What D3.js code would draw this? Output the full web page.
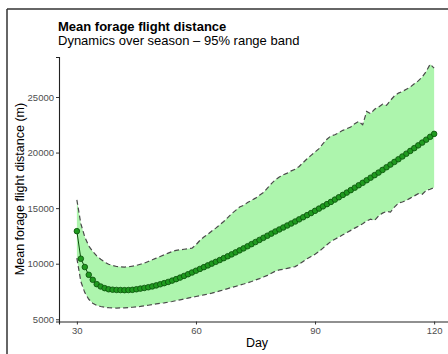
<!DOCTYPE html>
<html>
<head>
<meta charset="utf-8">
<script src="https://cdn.jsdelivr.net/npm/d3@7"></script>
<style>
  body { margin: 0; background: #fff; }
  svg { display: block; font-family: "Liberation Sans", Arial, sans-serif; }
</style>
</head>
<body>
<svg id="chart" width="448" height="354"></svg>
<script>
const days = d3.range(30, 121);

const meanDist = [
  12930, 10450, 9700, 9000, 8550, 8160, 7950, 7800, 7700, 7660,
  7640, 7630, 7620, 7630, 7650, 7700, 7760, 7820, 7880, 7960,
  8050, 8150, 8250, 8360, 8480, 8610, 8750, 8900, 9050, 9210,
  9370, 9530, 9690, 9850, 10010, 10170, 10330, 10500, 10670, 10840,
  11020, 11200, 11380, 11570, 11760, 11950, 12140, 12330, 12520, 12710,
  12900, 13080, 13260, 13440, 13620, 13800, 13990, 14180, 14370, 14560,
  14760, 14960, 15160, 15360, 15560, 15770, 15980, 16190, 16400, 16620,
  16840, 17060, 17280, 17510, 17740, 17970, 18200, 18440, 18680, 18920,
  19160, 19400, 19650, 19900, 20150, 20400, 20650, 20900, 21160, 21420,
  21680
];

const upperDist = [
  15750, 13600, 12400, 11600, 11100, 10700, 10400, 10150, 9950, 9850,
  9750, 9720, 9700, 9720, 9780, 9850, 9950, 10050, 10200, 10350,
  10500, 10650, 10800, 10950, 11100, 11200, 11250, 11300, 11350, 11400,
  11700, 12100, 12400, 12650, 12950, 13200, 13500, 13800, 14150, 14500,
  14800, 15100, 15250, 15500, 15700, 15900, 16150, 16400, 16800, 17200,
  17550, 17800, 18000, 18150, 18350, 18500, 18750, 19100, 19450, 19750,
  20050, 20350, 20800, 21200, 21500, 21600, 21800, 22000, 22150, 22300,
  22600, 22800, 22500, 23700, 23500, 23900, 24100, 24350, 24250, 24700,
  25100, 25350, 25500, 25700, 25900, 26200, 26450, 26800, 27300, 27950,
  27600
];

const lowerDist = [
  10500, 8400, 7400, 6800, 6450, 6250, 6150, 6080, 6040, 6020,
  6010, 6020, 6030, 6050, 6080, 6120, 6160, 6210, 6260, 6320,
  6380, 6430, 6480, 6540, 6600, 6680, 6750, 6820, 6900, 6980,
  7050, 7120, 7200, 7270, 7350, 7450, 7550, 7650, 7760, 7860,
  7960, 8070, 8170, 8280, 8400, 8530, 8660, 8800, 8950, 9150,
  9330, 9440, 9500, 9580, 9660, 9740, 9950, 10200, 10450, 10650,
  10850, 11100, 11400, 11700, 12000, 12200, 12400, 12600, 12800, 13000,
  13200, 13400, 13600, 13850, 14000, 13900, 14300, 14550, 14700, 14650,
  15100, 15450, 15550, 15700, 15900, 16100, 16300, 16250, 16600, 16700,
  16850
];

const xTicks = [30, 60, 90, 120];
const yTicks = [5000, 10000, 15000, 20000, 25000];

const data = days.map((d, i) => ({
  day: d, mean: meanDist[i], lo: lowerDist[i], hi: upperDist[i]
}));

const svg = d3.select("#chart");

// frame of the exported panel (cropped on right/bottom)
svg.append("line").attr("x1", 7).attr("x2", 448).attr("y1", 9).attr("y2", 9)
  .attr("stroke", "#333").attr("stroke-width", 1.5);
svg.append("line").attr("x1", 7).attr("x2", 7).attr("y1", 9).attr("y2", 354)
  .attr("stroke", "#333").attr("stroke-width", 1.5);

const x = d3.scaleLinear().domain([25.5, 124.5]).range([59, 452]);
const y = d3.scaleLinear().domain([4800, 28600]).range([321.5, 57]);

// band
svg.append("path")
  .datum(data)
  .attr("fill", "#adf5ad")
  .attr("d", d3.area().x(d => x(d.day)).y0(d => y(d.lo)).y1(d => y(d.hi)));

["lo", "hi"].forEach(k => {
  svg.append("path")
    .datum(data)
    .attr("fill", "none")
    .attr("stroke", "#4a4a4a")
    .attr("stroke-width", 1.2)
    .attr("stroke-dasharray", "5,3")
    .attr("d", d3.line().x(d => x(d.day)).y(d => y(d[k])));
});

// mean line + points
svg.append("path")
  .datum(data)
  .attr("fill", "none")
  .attr("stroke", "#0b4d0b")
  .attr("stroke-width", 1)
  .attr("d", d3.line().x(d => x(d.day)).y(d => y(d.mean)));

svg.append("g").selectAll("circle")
  .data(data)
  .join("circle")
  .attr("cx", d => x(d.day))
  .attr("cy", d => y(d.mean))
  .attr("r", 2.8)
  .attr("fill", "#1f9a1f")
  .attr("stroke", "#0a4f0a")
  .attr("stroke-width", 0.8);

// axes
const xAxis = svg.append("g")
  .attr("transform", "translate(0,321.5)")
  .call(d3.axisBottom(x).tickValues(xTicks).tickFormat(d3.format("d")).tickSize(3).tickPadding(3));
const yAxis = svg.append("g")
  .attr("transform", "translate(59,0)")
  .call(d3.axisLeft(y).tickValues(yTicks).tickFormat(d3.format("d")).tickSize(3).tickPadding(2));

[xAxis, yAxis].forEach(g => {
  g.select(".domain").attr("stroke", "#222").attr("stroke-width", 1.1);
  g.selectAll(".tick line").attr("stroke", "#333");
  g.selectAll("text")
    .attr("font-size", "9.5px")
    .attr("fill", "#4d4d4d")
    .attr("font-family", "Liberation Sans, Arial, sans-serif");
});

// labels
svg.append("text")
  .attr("x", 257).attr("y", 347)
  .attr("text-anchor", "middle")
  .attr("font-size", "12.5px")
  .text("Day");

svg.append("text")
  .attr("transform", "translate(24,189) rotate(-90)")
  .attr("text-anchor", "middle")
  .attr("font-size", "12.5px")
  .text("Mean forage flight distance (m)");

svg.append("text")
  .attr("x", 58).attr("y", 30.5)
  .attr("font-size", "13px")
  .attr("font-weight", "bold")
  .text("Mean forage flight distance");

svg.append("text")
  .attr("x", 58).attr("y", 45)
  .attr("font-size", "13px")
  .text("Dynamics over season – 95% range band");
</script>
</body>
</html>
